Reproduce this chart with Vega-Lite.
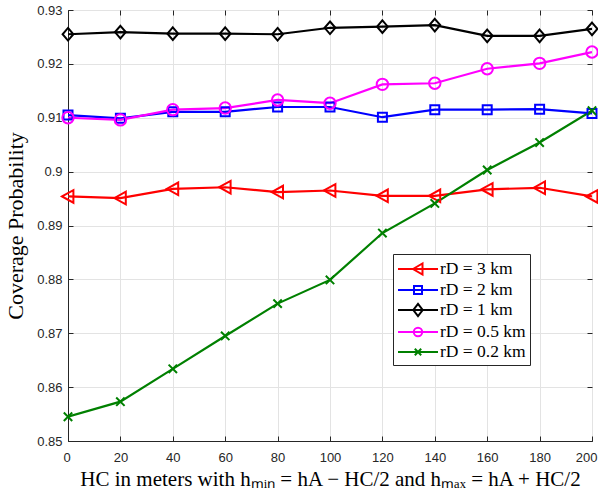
{
  "$schema": "https://vega.github.io/schema/vega-lite/v6.json",
  "width": 524,
  "height": 431,
  "autosize": {"type": "none"},
  "padding": {"left": 68, "top": 10, "right": 6, "bottom": 51},
  "background": "white",
  "config": {
    "view": {"stroke": "#262626", "strokeWidth": 1},
    "axis": {
      "domainColor": "#262626",
      "tickColor": "#262626",
      "labelColor": "#262626",
      "labelFont": "Liberation Sans",
      "labelFontSize": 13,
      "titleFont": "Liberation Serif",
      "titleFontWeight": "normal",
      "titleColor": "#000000",
      "gridColor": "#E3E3E3",
      "gridWidth": 1,
      "tickSize": -5
    },
    "legend": {
      "orient": "none",
      "legendX": 325,
      "legendY": 244,
      "strokeColor": "#262626",
      "fillColor": "white",
      "padding": 4,
      "symbolSize": 400,
      "symbolStrokeWidth": 2,
      "symbolOpacity": 1,
      "symbolFillColor": "transparent",
      "labelFont": "Liberation Serif",
      "labelFontSize": 17.5,
      "labelColor": "#000000",
      "labelOffset": 21,
      "rowPadding": 0
    }
  },
  "data": {
    "values": [
      {"h": 0, "s": "rD = 3 km", "p": 0.8954}, {"h": 20, "s": "rD = 3 km", "p": 0.8951}, {"h": 40, "s": "rD = 3 km", "p": 0.8968}, {"h": 60, "s": "rD = 3 km", "p": 0.8971}, {"h": 80, "s": "rD = 3 km", "p": 0.8962}, {"h": 100, "s": "rD = 3 km", "p": 0.8965}, {"h": 120, "s": "rD = 3 km", "p": 0.8955}, {"h": 140, "s": "rD = 3 km", "p": 0.8955}, {"h": 160, "s": "rD = 3 km", "p": 0.8967}, {"h": 180, "s": "rD = 3 km", "p": 0.8970}, {"h": 200, "s": "rD = 3 km", "p": 0.8954},
      {"h": 0, "s": "rD = 2 km", "p": 0.9105}, {"h": 20, "s": "rD = 2 km", "p": 0.9099}, {"h": 40, "s": "rD = 2 km", "p": 0.9111}, {"h": 60, "s": "rD = 2 km", "p": 0.9111}, {"h": 80, "s": "rD = 2 km", "p": 0.9120}, {"h": 100, "s": "rD = 2 km", "p": 0.9120}, {"h": 120, "s": "rD = 2 km", "p": 0.9101}, {"h": 140, "s": "rD = 2 km", "p": 0.9115}, {"h": 160, "s": "rD = 2 km", "p": 0.9115}, {"h": 180, "s": "rD = 2 km", "p": 0.9116}, {"h": 200, "s": "rD = 2 km", "p": 0.9108},
      {"h": 0, "s": "rD = 1 km", "p": 0.9255}, {"h": 20, "s": "rD = 1 km", "p": 0.9259}, {"h": 40, "s": "rD = 1 km", "p": 0.9256}, {"h": 60, "s": "rD = 1 km", "p": 0.9256}, {"h": 80, "s": "rD = 1 km", "p": 0.9255}, {"h": 100, "s": "rD = 1 km", "p": 0.9267}, {"h": 120, "s": "rD = 1 km", "p": 0.9269}, {"h": 140, "s": "rD = 1 km", "p": 0.9272}, {"h": 160, "s": "rD = 1 km", "p": 0.9252}, {"h": 180, "s": "rD = 1 km", "p": 0.9252}, {"h": 200, "s": "rD = 1 km", "p": 0.9265},
      {"h": 0, "s": "rD = 0.5 km", "p": 0.9100}, {"h": 20, "s": "rD = 0.5 km", "p": 0.9096}, {"h": 40, "s": "rD = 0.5 km", "p": 0.9115}, {"h": 60, "s": "rD = 0.5 km", "p": 0.9118}, {"h": 80, "s": "rD = 0.5 km", "p": 0.9133}, {"h": 100, "s": "rD = 0.5 km", "p": 0.9127}, {"h": 120, "s": "rD = 0.5 km", "p": 0.9162}, {"h": 140, "s": "rD = 0.5 km", "p": 0.9164}, {"h": 160, "s": "rD = 0.5 km", "p": 0.9191}, {"h": 180, "s": "rD = 0.5 km", "p": 0.9201}, {"h": 200, "s": "rD = 0.5 km", "p": 0.9222},
      {"h": 0, "s": "rD = 0.2 km", "p": 0.8545}, {"h": 20, "s": "rD = 0.2 km", "p": 0.8573}, {"h": 40, "s": "rD = 0.2 km", "p": 0.8634}, {"h": 60, "s": "rD = 0.2 km", "p": 0.8695}, {"h": 80, "s": "rD = 0.2 km", "p": 0.8755}, {"h": 100, "s": "rD = 0.2 km", "p": 0.8799}, {"h": 120, "s": "rD = 0.2 km", "p": 0.8886}, {"h": 140, "s": "rD = 0.2 km", "p": 0.8941}, {"h": 160, "s": "rD = 0.2 km", "p": 0.9003}, {"h": 180, "s": "rD = 0.2 km", "p": 0.9054}, {"h": 200, "s": "rD = 0.2 km", "p": 0.9113}
    ]
  },
  "layer": [
    {
      "mark": {"type": "line", "strokeWidth": 2.2, "clip": true},
      "encoding": {
        "x": {
          "field": "h", "type": "quantitative",
          "scale": {"domain": [0, 200], "nice": false},
          "axis": {
            "values": [0, 20, 40, 60, 80, 100, 120, 140, 160, 180, 200],
            "title": "HC in meters with hₘᵢₙ = hA − HC/2 and hₘₐₓ = hA + HC/2",
            "titleFontSize": 21,
            "labelPadding": 15,
            "titlePadding": 4,
            "labelFlush": 1,
            "labelFlushOffset": 5
          }
        },
        "y": {
          "field": "p", "type": "quantitative",
          "scale": {"domain": [0.85, 0.93], "nice": false, "zero": false},
          "axis": {
            "values": [0.85, 0.86, 0.87, 0.88, 0.89, 0.9, 0.91, 0.92, 0.93],
            "format": ".2~f",
            "title": "Coverage Probability",
            "titleFontSize": 22,
            "labelPadding": 11,
            "titlePadding": 9
          }
        },
        "color": {
          "field": "s", "type": "nominal",
          "scale": {
            "domain": ["rD = 3 km", "rD = 2 km", "rD = 1 km", "rD = 0.5 km", "rD = 0.2 km"],
            "range": ["#FF0000", "#0000FF", "#000000", "#FF00FF", "#008000"]
          },
          "legend": {"title": null}
        }
      }
    },
    {
      "mark": {"type": "point", "filled": false, "opacity": 0, "strokeWidth": 2},
      "encoding": {
        "x": {
          "field": "h", "type": "quantitative",
          "scale": {"domain": [0, 200], "nice": false},
          "axis": {"orient": "top", "values": [0, 20, 40, 60, 80, 100, 120, 140, 160, 180, 200], "labels": false, "grid": false, "title": null, "domain": false}
        },
        "y": {
          "field": "p", "type": "quantitative",
          "scale": {"domain": [0.85, 0.93], "nice": false, "zero": false},
          "axis": {"orient": "right", "values": [0.85, 0.86, 0.87, 0.88, 0.89, 0.9, 0.91, 0.92, 0.93], "labels": false, "grid": false, "title": null, "domain": false}
        },
        "color": {
          "field": "s", "type": "nominal",
          "scale": {
            "domain": ["rD = 3 km", "rD = 2 km", "rD = 1 km", "rD = 0.5 km", "rD = 0.2 km"],
            "range": ["#FF0000", "#0000FF", "#000000", "#FF00FF", "#008000"]
          },
          "legend": {"title": null}
        },
        "shape": {
          "field": "s", "type": "nominal",
          "scale": {
            "domain": ["rD = 3 km", "rD = 2 km", "rD = 1 km", "rD = 0.5 km", "rD = 0.2 km"],
            "range": [
              "M-1,0L3,0M0.5,0L1.45,-0.55L1.45,0.55Z",
              "M-1,0L3,0M0.6,-0.4L1.4,-0.4L1.4,0.4L0.6,0.4Z",
              "M-1,0L3,0M1,-0.62L1.47,0L1,0.62L0.53,0Z",
              "M-1,0L3,0M0.58,0A0.42,0.42 0 1,0 1.42,0A0.42,0.42 0 1,0 0.58,0Z",
              "M-1,0L3,0M0.68,-0.32L1.32,0.32M0.68,0.32L1.32,-0.32"
            ]
          },
          "legend": {"title": null}
        }
      }
    },
    {
      "transform": [{"filter": "datum.s === 'rD = 3 km'"}],
      "mark": {"type": "point", "filled": false, "strokeWidth": 2, "size": 144, "opacity": 1, "color": "#FF0000", "shape": "M-1,0L0.9,-1.05L0.9,1.05Z"},
      "encoding": {
        "x": {"field": "h", "type": "quantitative", "scale": {"domain": [0, 200], "nice": false}, "axis": null},
        "y": {"field": "p", "type": "quantitative", "scale": {"domain": [0.85, 0.93], "nice": false, "zero": false}, "axis": null}
      }
    },
    {
      "transform": [{"filter": "datum.s === 'rD = 2 km'"}],
      "mark": {"type": "point", "filled": false, "strokeWidth": 2, "size": 144, "opacity": 1, "color": "#0000FF", "shape": "M-0.75,-0.75L0.75,-0.75L0.75,0.75L-0.75,0.75Z"},
      "encoding": {
        "x": {"field": "h", "type": "quantitative", "scale": {"domain": [0, 200], "nice": false}, "axis": null},
        "y": {"field": "p", "type": "quantitative", "scale": {"domain": [0.85, 0.93], "nice": false, "zero": false}, "axis": null}
      }
    },
    {
      "transform": [{"filter": "datum.s === 'rD = 1 km'"}],
      "mark": {"type": "point", "filled": false, "strokeWidth": 2, "size": 144, "opacity": 1, "color": "#000000", "shape": "M0,-1.05L0.9,0L0,1.05L-0.9,0Z"},
      "encoding": {
        "x": {"field": "h", "type": "quantitative", "scale": {"domain": [0, 200], "nice": false}, "axis": null},
        "y": {"field": "p", "type": "quantitative", "scale": {"domain": [0.85, 0.93], "nice": false, "zero": false}, "axis": null}
      }
    },
    {
      "transform": [{"filter": "datum.s === 'rD = 0.5 km'"}],
      "mark": {"type": "point", "filled": false, "strokeWidth": 2, "size": 144, "opacity": 1, "color": "#FF00FF", "shape": "M-0.95,0A0.95,0.95 0 1,0 0.95,0A0.95,0.95 0 1,0 -0.95,0Z"},
      "encoding": {
        "x": {"field": "h", "type": "quantitative", "scale": {"domain": [0, 200], "nice": false}, "axis": null},
        "y": {"field": "p", "type": "quantitative", "scale": {"domain": [0.85, 0.93], "nice": false, "zero": false}, "axis": null}
      }
    },
    {
      "transform": [{"filter": "datum.s === 'rD = 0.2 km'"}],
      "mark": {"type": "point", "filled": false, "strokeWidth": 2, "size": 144, "opacity": 1, "color": "#008000", "shape": "M-0.7,-0.7L0.7,0.7M-0.7,0.7L0.7,-0.7"},
      "encoding": {
        "x": {"field": "h", "type": "quantitative", "scale": {"domain": [0, 200], "nice": false}, "axis": null},
        "y": {"field": "p", "type": "quantitative", "scale": {"domain": [0.85, 0.93], "nice": false, "zero": false}, "axis": null}
      }
    }
  ],
  "resolve": {"axis": {"x": "independent", "y": "independent"}}
}
